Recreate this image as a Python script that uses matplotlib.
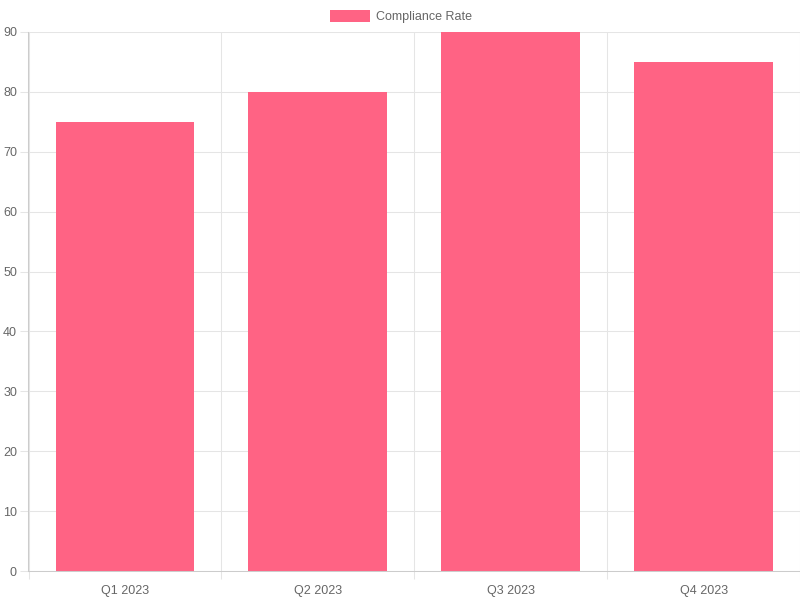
import matplotlib.pyplot as plt
from matplotlib.patches import Rectangle

# data
quarters = ["Q1 2023", "Q2 2023", "Q3 2023", "Q4 2023"]
compliance_rate = [75, 80, 90, 85]
series_name = "Compliance Rate"
y_ticks = list(range(0, 91, 10))

plt.rcParams['font.family'] = ['Liberation Sans', 'DejaVu Sans']

bar_color = '#ff6384'
text_color = '#666666'
grid_color = '#e5e5e5'

fig = plt.figure(figsize=(8, 6), dpi=100)
ax = fig.add_axes([28.5 / 800, 29 / 600, 1 - 28.5 / 800, 539 / 600])

x = list(range(len(quarters)))
ax.bar(x, compliance_rate, width=0.72, color=bar_color, zorder=2)

ax.set_xlim(-0.5, len(quarters) - 0.5)
ax.set_ylim(0, 90)

# y axis (tick lengths in points: 8px at 100 dpi ~ 5.8pt)
ax.set_yticks(y_ticks)
ax.tick_params(axis='y', length=5.8, width=0.75, color=grid_color, pad=2.5,
               labelsize=9, labelcolor=text_color)
ax.grid(axis='y', color=grid_color, linewidth=0.75, zorder=0)

# x axis: labels at centres, grid lines at category boundaries
ax.set_xticks(x)
ax.set_xticklabels(quarters)
ax.set_xticks([i - 0.5 for i in range(len(quarters) + 1)], minor=True)
ax.tick_params(axis='x', which='major', length=0, pad=10,
               labelsize=9, labelcolor=text_color)
ax.tick_params(axis='x', which='minor', length=5.8, width=0.75, color=grid_color)
ax.grid(axis='x', which='minor', color=grid_color, linewidth=0.75, zorder=0)
ax.set_axisbelow(True)

for side in ['top', 'right']:
    ax.spines[side].set_visible(False)
for side in ['left', 'bottom']:
    ax.spines[side].set_color('#cccccc')
    ax.spines[side].set_linewidth(0.75)

# legend
fig.patches.append(Rectangle((330 / 800, 1 - 22 / 600), 40 / 800, 12 / 600,
                             transform=fig.transFigure, facecolor=bar_color,
                             edgecolor='none'))
fig.text(376 / 800, 1 - 17 / 600, series_name, fontsize=9, color=text_color,
         ha='left', va='center')

fig.savefig('out.png', dpi=100)
